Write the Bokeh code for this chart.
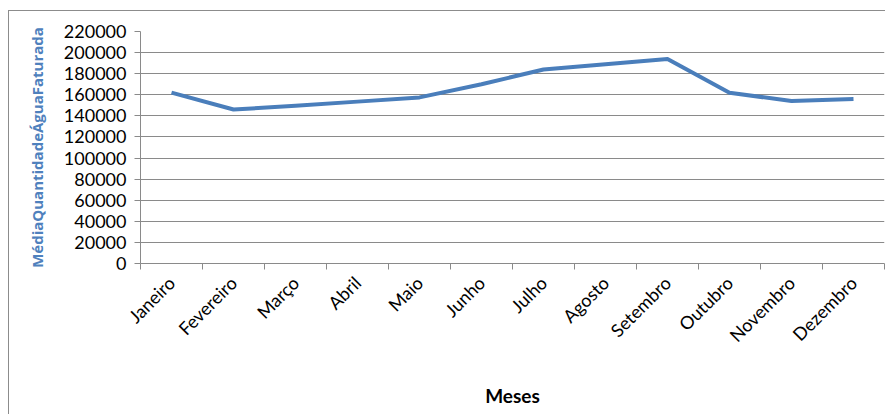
import math
from bokeh.plotting import figure
from bokeh.models import Range1d, FixedTicker
from bokeh.embed import file_html
from bokeh.resources import INLINE

months = ["Janeiro", "Fevereiro", "Março", "Abril", "Maio", "Junho",
          "Julho", "Agosto", "Setembro", "Outubro", "Novembro", "Dezembro"]
values = [162000, 146000, 149500, 153500, 157500, 170000,
          184000, 189000, 194000, 162000, 154000, 156000]
y_ticks = list(range(0, 220001, 20000))

xs = [i + 0.5 for i in range(len(months))]

p = figure(width=877, height=404, output_backend="svg", toolbar_location=None,
           x_range=Range1d(0, len(months)), y_range=Range1d(0, 220000),
           min_border_left=131, min_border_top=20, min_border_right=2,
           min_border_bottom=152)
p.styles = {"margin-left": "8px", "margin-top": "10px",
            "border-left": "1.5px solid #8c8c8c",
            "border-top": "1.5px solid #8c8c8c"}
p.outline_line_color = None
p.background_fill_color = "white"
p.border_fill_color = "white"

grid_c = "#8a8a8a"
label_font = "Lato"

# x axis
p.xaxis.ticker = FixedTicker(ticks=xs, minor_ticks=list(range(len(months) + 1)))
p.xaxis.major_label_overrides = {x: m for x, m in zip(xs, months)}
p.xaxis.major_label_orientation = math.pi / 4
p.xaxis.major_tick_out = 0
p.xaxis.major_tick_in = 0
p.xaxis.minor_tick_out = 6
p.xaxis.minor_tick_in = 0
p.xaxis.minor_tick_line_color = grid_c
p.xaxis.axis_line_color = grid_c
p.xaxis.major_label_text_font = label_font
p.xaxis.major_label_text_font_size = "18px"
p.xaxis.major_label_text_color = "black"
p.xaxis.major_label_standoff = 10
p.xaxis.axis_label = "Meses"
p.xaxis.axis_label_text_font = label_font
p.xaxis.axis_label_text_font_style = "bold"
p.xaxis.axis_label_text_font_size = "19px"
p.xaxis.axis_label_text_color = "black"
p.xaxis.axis_label_standoff = 27
p.xgrid.visible = False

# y axis
p.yaxis.ticker = FixedTicker(ticks=y_ticks)
p.yaxis.major_label_overrides = {t: str(t) for t in y_ticks}
p.yaxis.minor_tick_line_color = None
p.yaxis.major_tick_out = 6
p.yaxis.major_tick_in = 0
p.yaxis.major_tick_line_color = grid_c
p.yaxis.axis_line_color = grid_c
p.yaxis.major_label_text_font = label_font
p.yaxis.major_label_text_font_size = "18px"
p.yaxis.major_label_text_color = "black"
p.yaxis.major_label_standoff = 8
p.yaxis.axis_label = "MédiaQuantidadeÁguaFaturada"
p.yaxis.axis_label_text_font = "Open Sans"
p.yaxis.axis_label_text_font_style = "bold"
p.yaxis.axis_label_text_font_size = "15px"
p.yaxis.axis_label_text_color = "#4F81BD"
p.yaxis.axis_label_standoff = 14
p.ygrid.ticker = FixedTicker(ticks=y_ticks)
p.ygrid.grid_line_color = grid_c
p.ygrid.grid_line_width = 1

p.line(xs, values, line_color="#4A7EBB", line_width=4, line_join="round")

open("out.html", "w").write(file_html(p, INLINE))
